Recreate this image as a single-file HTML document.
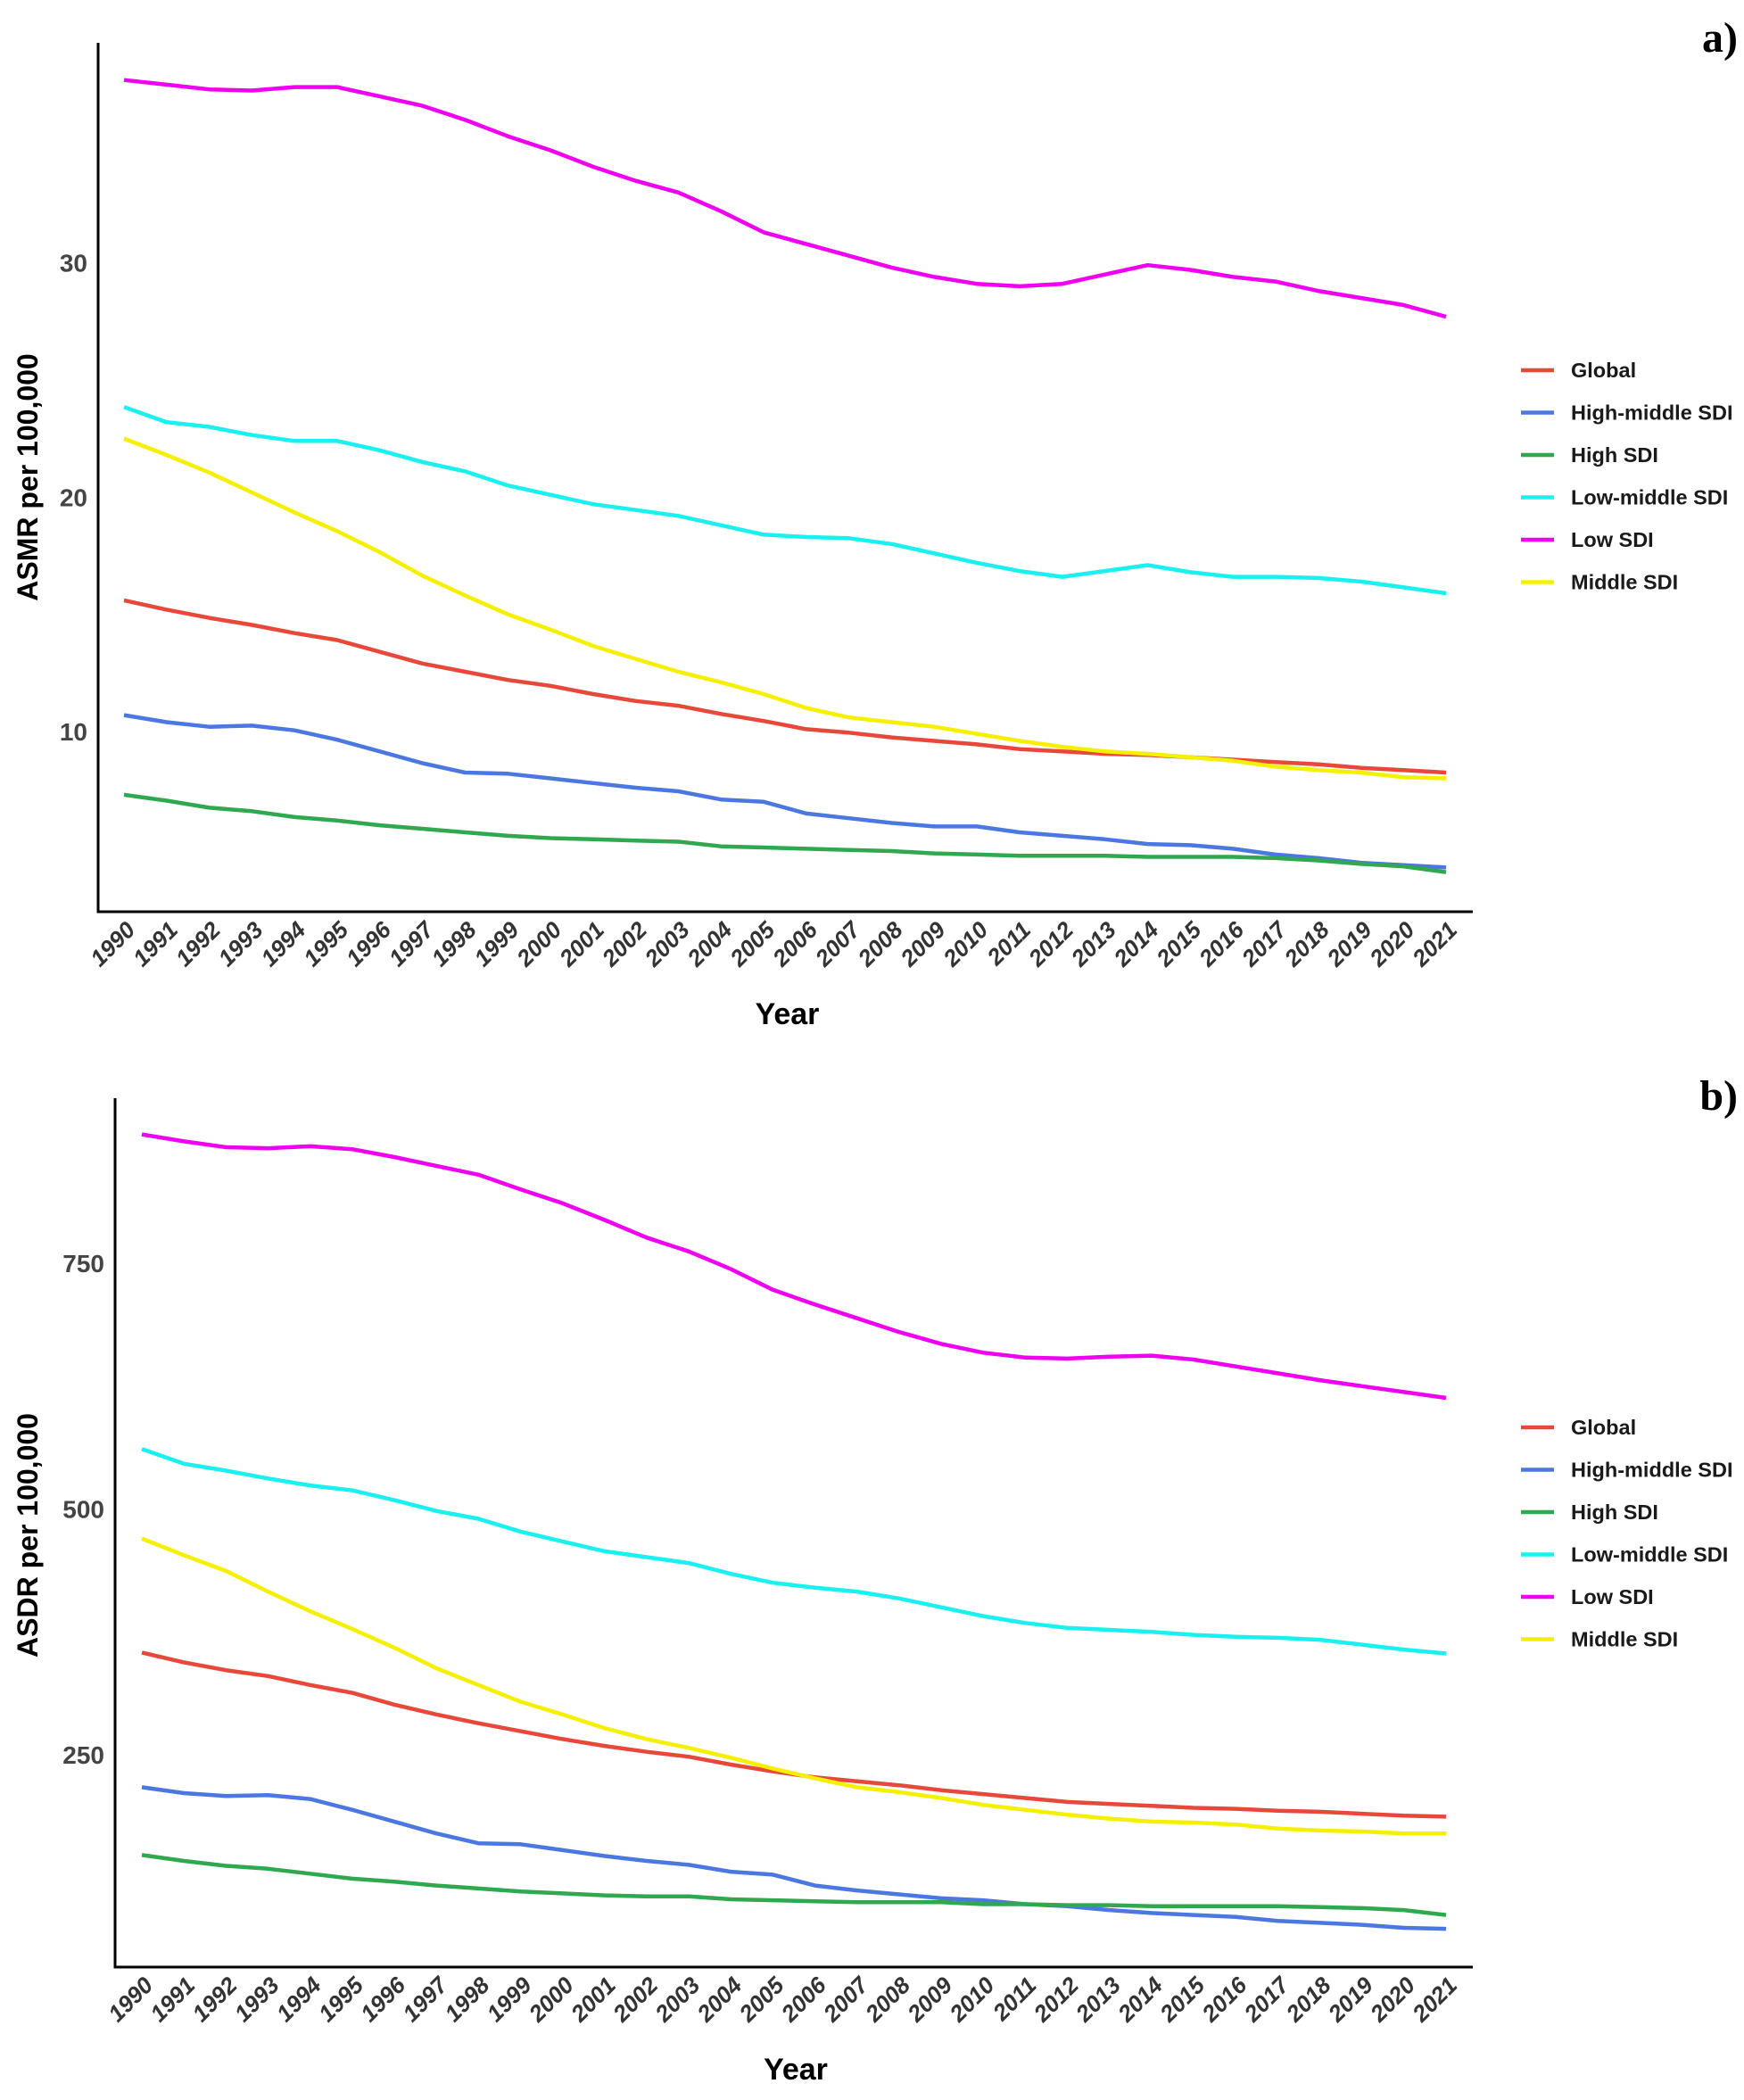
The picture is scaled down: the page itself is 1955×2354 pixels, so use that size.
<!DOCTYPE html>
<html><head><meta charset="utf-8"><style>
html,body{margin:0;padding:0;background:#fff;}
svg{display:block;font-family:"Liberation Sans",Arial,sans-serif;}
</style></head><body>
<svg id="chart" width="1955" height="2354" viewBox="0 0 1955 2354" xmlns="http://www.w3.org/2000/svg"></svg>
<script>
const years = [];
for (let y = 1990; y <= 2021; y++) years.push(y);
const seriesNames = ["Global","High-middle SDI","High SDI","Low-middle SDI","Low SDI","Middle SDI"];
const seriesColors = ["#E8483A","#4A78E0","#2FA84F","#19F0F0","#F000F0","#F5F000"];

// Panel a: ASMR
const asmrGlobal = [15.6,15.2,14.85,14.55,14.2,13.9,13.4,12.9,12.55,12.2,11.95,11.6,11.3,11.1,10.75,10.45,10.1,9.95,9.75,9.6,9.45,9.25,9.15,9.05,9.0,8.9,8.8,8.7,8.6,8.45,8.35,8.25];
const asmrHighMiddle = [10.7,10.4,10.2,10.25,10.05,9.65,9.15,8.65,8.25,8.2,8.0,7.8,7.6,7.45,7.1,7.0,6.5,6.3,6.1,5.95,5.95,5.7,5.55,5.4,5.2,5.15,5.0,4.75,4.6,4.4,4.3,4.2];
const asmrHigh = [7.3,7.05,6.75,6.6,6.35,6.2,6.0,5.85,5.7,5.55,5.45,5.4,5.35,5.3,5.1,5.05,5.0,4.95,4.9,4.8,4.75,4.7,4.7,4.7,4.65,4.65,4.65,4.6,4.5,4.35,4.25,4.0];
const asmrLowMiddle = [23.85,23.2,23.0,22.65,22.4,22.4,22.0,21.5,21.1,20.5,20.1,19.7,19.45,19.2,18.8,18.4,18.3,18.25,18.0,17.6,17.2,16.85,16.6,16.85,17.1,16.8,16.6,16.6,16.55,16.4,16.15,15.9];
const asmrLow = [37.8,37.6,37.4,37.35,37.5,37.5,37.1,36.7,36.1,35.4,34.8,34.1,33.5,33.0,32.2,31.3,30.8,30.3,29.8,29.4,29.1,29.0,29.1,29.5,29.9,29.7,29.4,29.2,28.8,28.5,28.2,27.7];
const asmrMiddle = [22.5,21.8,21.05,20.2,19.35,18.55,17.65,16.65,15.8,15.0,14.35,13.65,13.1,12.55,12.1,11.6,11.0,10.6,10.4,10.2,9.9,9.6,9.35,9.15,9.05,8.9,8.75,8.5,8.35,8.25,8.05,8.0];
const asmrTicks = [10,20,30];

// Panel b: ASDR
const asdrGlobal = [354,344,336,330,321,313,301,291,282,274,266,259,253,248,240,233,227,223,219,214,210,206,202,200,198,196,195,193,192,190,188,187];
const asdrHighMiddle = [217,211,208,209,205,194,182,170,160,159,153,147,142,138,131,128,117,112,108,104,102,98,96,92,89,87,85,81,79,77,74,73];
const asdrHigh = [148,142,137,134,129,124,121,117,114,111,109,107,106,106,103,102,101,100,100,100,98,98,97,97,96,96,96,96,95,94,92,87];
const asdrLowMiddle = [561,546,539,531,524,519,509,498,490,477,467,457,451,445,434,425,420,416,409,400,391,384,379,377,375,372,370,369,367,362,357,353];
const asdrLow = [881,874,868,867,869,866,858,849,840,825,811,794,776,762,744,723,708,694,680,668,659,654,653,655,656,652,645,638,631,625,619,613];
const asdrMiddle = [470,453,437,416,396,378,359,338,321,304,291,277,266,257,247,236,226,217,212,206,199,194,189,185,182,181,179,175,173,172,170,170];
const asdrTicks = [250,500,750];

const NS = "http://www.w3.org/2000/svg";
const svg = document.getElementById("chart");
function mk(tag, attrs, parent) {
  const e = document.createElementNS(NS, tag);
  for (const k in attrs) e.setAttribute(k, attrs[k]);
  (parent || svg).appendChild(e);
  return e;
}

function drawPanel(cfg, seriesData, ticks) {
  const g = mk("g", {});
  
  
  const xS = yr => cfg.x0 + (yr - 1990) * (cfg.x1 - cfg.x0) / 31;
  const yS = v => cfg.yRef - (v - cfg.vRef) * cfg.pxPer;
  const ya = mk("line", {x1: cfg.axX, y1: cfg.top, x2: cfg.axX, y2: cfg.bottom, stroke: "#000", "stroke-width": 3}, g);
  
  
  const xa = mk("line", {x1: cfg.axX - 1.5, y1: cfg.bottom, x2: cfg.right, y2: cfg.bottom, stroke: "#000", "stroke-width": 3}, g);
  
  
  ticks.forEach(t => {
    const tx = mk("text", {x: cfg.axX - 12, y: yS(t) + 10, "text-anchor": "end", "font-size": 28, "font-weight": "bold", fill: "#444"}, g);
    tx.textContent = t;
    
    
  });
  years.forEach(yr => {
    const x = xS(yr) + 14, y = cfg.bottom + 22;
    const tx = mk("text", {x: x, y: y, "text-anchor": "end", "font-size": 26, "font-weight": "bold", "font-style": "italic", fill: "#333", transform: `rotate(-45 ${x} ${y})`}, g);
    tx.textContent = yr;
    
    
  });
  const xt = mk("text", {x: (cfg.axX + cfg.right) / 2 + 2, y: cfg.bottom + 126, "text-anchor": "middle", "font-size": 34, "font-weight": "bold", fill: "#000"}, g);
  xt.textContent = "Year";
  
  
  const yt = mk("text", {x: 42, y: cfg.yTitleY, "text-anchor": "middle", "font-size": 32, "font-weight": "bold", fill: "#000", transform: `rotate(-90 42 ${cfg.yTitleY})`}, g);
  yt.textContent = cfg.yTitle;
  
  
  const pl = mk("text", {x: 1948, y: cfg.labelY, "text-anchor": "end", "font-size": 48, "font-weight": "bold", fill: "#000", "font-family": "Liberation Serif, serif"}, g);
  pl.textContent = cfg.label;
  
  
  seriesData.forEach((vals, i) => {
    const d = vals.map((v, j) => (j ? "L" : "M") + xS(years[j]).toFixed(1) + " " + yS(v).toFixed(1)).join(" ");
    const p = mk("path", {d: d, fill: "none", stroke: seriesColors[i], "stroke-width": 4.5, "stroke-linejoin": "round"}, g);
    
    
  });
  seriesNames.forEach((n, i) => {
    const ly = cfg.legY + i * 47.5;
    const ll = mk("line", {x1: 1705, y1: ly, x2: 1742, y2: ly, stroke: seriesColors[i], "stroke-width": 4.5}, g);
    
    
    const lt = mk("text", {x: 1761, y: ly + 8, "font-size": 23.5, "font-weight": "bold", fill: "#1a1a1a"}, g);
    lt.textContent = n;
    
    
  });
}

drawPanel({id: "asmr", x0: 139, x1: 1621, axX: 110, top: 48, bottom: 1022, right: 1651,
  yRef: 820, vRef: 10, pxPer: 26.27, yTitle: "ASMR per 100,000", yTitleY: 535, label: "a)", labelY: 58, legY: 415},
  [asmrGlobal, asmrHighMiddle, asmrHigh, asmrLowMiddle, asmrLow, asmrMiddle], asmrTicks);

drawPanel({id: "asdr", x0: 159, x1: 1621, axX: 129, top: 1231, bottom: 2205, right: 1651,
  yRef: 1967, vRef: 250, pxPer: 1.102, yTitle: "ASDR per 100,000", yTitleY: 1721, label: "b)", labelY: 1244, legY: 1600},
  [asdrGlobal, asdrHighMiddle, asdrHigh, asdrLowMiddle, asdrLow, asdrMiddle], asdrTicks);
</script>
</body></html>
